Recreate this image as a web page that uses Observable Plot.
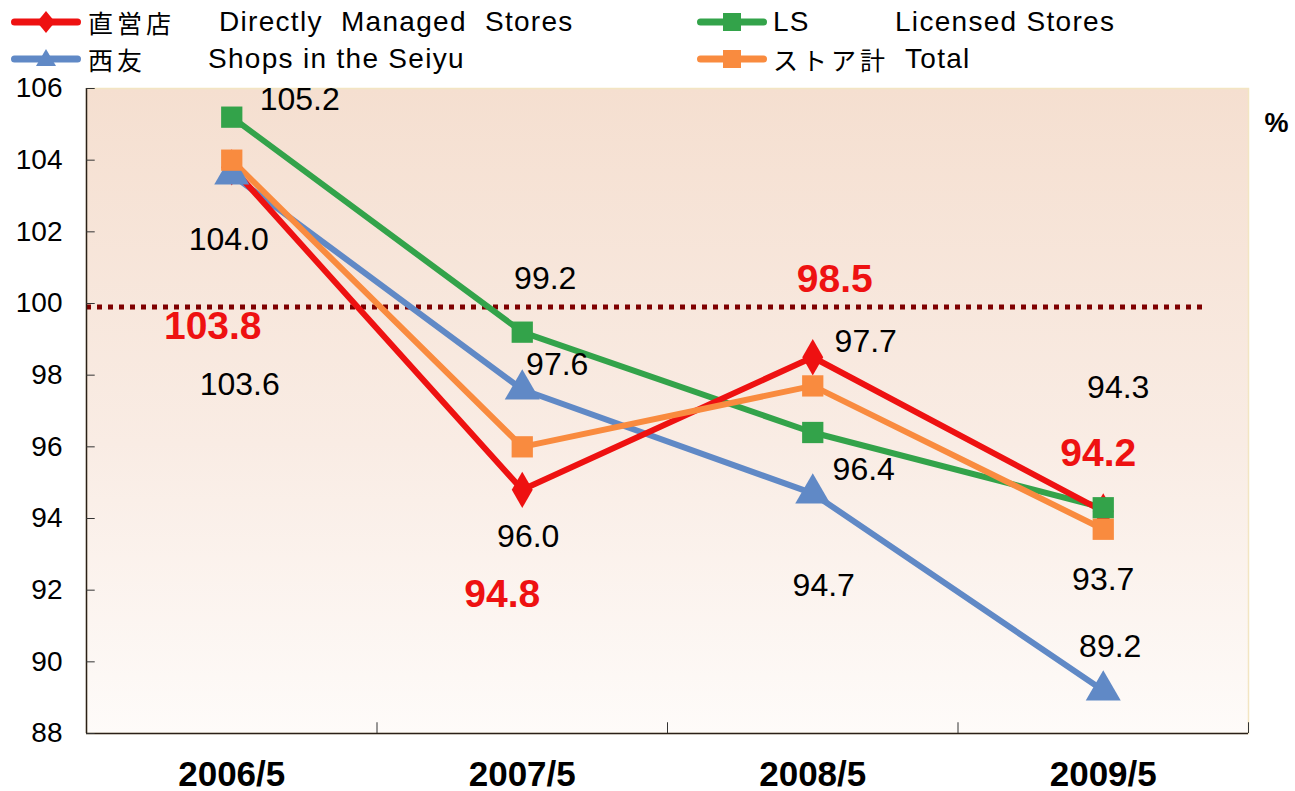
<!DOCTYPE html>
<html>
<head>
<meta charset="utf-8">
<script src="https://cdn.jsdelivr.net/npm/d3@7"></script>
<script src="https://cdn.jsdelivr.net/npm/@observablehq/plot@0.6"></script>
<style>
  body { margin: 0; background: #fff; font-family: "Liberation Sans", Arial, "Noto Sans CJK JP", sans-serif; }
  #wrap { position: relative; width: 1295px; height: 791px; }
  .lg { position: absolute; font-size: 28px; letter-spacing: 1.3px; color: #000; white-space: pre; line-height: 28px; height: 28px; }
  .jp { position: absolute; font-size: 25px; letter-spacing: 4px; color: #000; white-space: pre; line-height: 28px; height: 28px; font-family: "Noto Sans CJK JP", sans-serif; }
  .sw { position: absolute; }
  #chart { position: absolute; left: 0; top: 76px; }
</style>
</head>
<body>
<div id="wrap"><div id="chart"></div></div>
<script>
// ---- data ----
const categories = ["2006/5", "2007/5", "2008/5", "2009/5"];
const directlyManaged = [103.8, 94.8, 98.5, 94.2];   // 直営店
const seiyuShops      = [103.6, 97.6, 94.7, 89.2];   // 西友
const licensedStores  = [105.2, 99.2, 96.4, 94.3];   // LS
const totalStores     = [104.0, 96.0, 97.7, 93.7];   // ストア計
const yTicks = [88, 90, 92, 94, 96, 98, 100, 102, 104, 106];
const referenceValue = 99.9;

// ---- styling / label offsets (pixels) ----
const series = [
  {key: "seiyu", jp: "西友", en: "Shops in the Seiyu", values: seiyuShops, color: "#6089c6", symbol: "triangle", r: 13,
   dx: [8, 35, 11, 7], dy: [210, -25, 92, -44], bold: false},
  {key: "ls", jp: "LS", en: "Licensed Stores", values: licensedStores, color: "#33a34a", symbol: "square", r: 12,
   dx: [68, 23, 51, 15], dy: [-17, -53, 37, -120], bold: false},
  {key: "direct", jp: "直営店", en: "Directly  Managed  Stores", values: directlyManaged, color: "#ee1111", symbol: "diamond", r: 11,
   dx: [-19, -20, 22, -5], dy: [159, 105, -78, -58], bold: true},
  {key: "total", jp: "ストア計", en: "Total", values: totalStores, color: "#f98b3f", symbol: "square", r: 12,
   dx: [-3, 6, 53, 0], dy: [80, 90, -44, 50], bold: false}
];
const dotOrder = ["direct", "seiyu", "ls", "total"];

const rows = series.map(s => s.values.map((v, i) => ({i, v, key: s.key})));

const marks = [];
// gradient defs
marks.push(() => {
  const ns = "http://www.w3.org/2000/svg";
  const defs = document.createElementNS(ns, "defs");
  defs.innerHTML = `<linearGradient id="bgGrad" x1="0" y1="0" x2="0" y2="1">
     <stop offset="0" stop-color="#f5dfd0"/>
     <stop offset="0.55" stop-color="#f9ece4"/>
     <stop offset="1" stop-color="#fefbf9"/>
   </linearGradient>`;
  return defs;
});
marks.push(Plot.frame({fill: "url(#bgGrad)", stroke: "#f3e5c2", strokeWidth: 1.5}));
// reference dotted line
marks.push(Plot.ruleY([referenceValue], {x1: -0.5, x2: 3.36, stroke: "#7f0000", strokeWidth: 5, strokeDasharray: "5,6"}));
// axes lines
marks.push(Plot.ruleX([-0.5], {stroke: "#2a2018", strokeWidth: 1.5}));
marks.push(Plot.ruleY([88], {stroke: "#2a2018", strokeWidth: 1.5}));
// y inner ticks
marks.push(Plot.ruleY(yTicks, {x1: -0.5, x2: -0.47, stroke: "#333", strokeWidth: 1}));
// x boundary ticks
marks.push(Plot.ruleX([0.5, 1.5, 2.5, 3.5], {y1: 88, y2: 88.3, stroke: "#333", strokeWidth: 1}));

series.forEach((s, k) => {
  marks.push(Plot.line(rows[k], {x: "i", y: "v", stroke: s.color, strokeWidth: 6, strokeLinejoin: "miter"}));
});
dotOrder.forEach(key => {
  const k = series.findIndex(s => s.key === key);
  const s = series[k];
  marks.push(Plot.dot(rows[k], {x: "i", y: "v", symbol: () => s.symbol, fill: s.color, r: s.r, stroke: "none"}));
});
series.forEach((s, k) => {
  rows[k].forEach((d, j) => {
    marks.push(Plot.text([d], {
      x: "i", y: "v", text: d => d.v.toFixed(1),
      dx: s.dx[j], dy: s.dy[j],
      fill: s.bold ? "#ee1111" : "#000",
      fontSize: s.bold ? 39 : 32,
      fontWeight: s.bold ? "bold" : "normal",
      fontFamily: "Liberation Sans, Arial, sans-serif"
    }));
  });
});
marks.push(Plot.axisY({ticks: yTicks, tickSize: 0, tickPadding: 24, fontSize: 28, label: null,
  fontFamily: "Liberation Sans, Arial, sans-serif"}));
marks.push(Plot.axisX({ticks: [0, 1, 2, 3], tickSize: 0, tickPadding: 28, label: null,
  tickFormat: i => categories[i], fontSize: 35, fontWeight: "bold",
  fontFamily: "Liberation Sans Narrow, Arial Narrow, Liberation Sans, sans-serif"}));
marks.push(Plot.text(["%"], {frameAnchor: "top-right", dx: 40, dy: 24, fontSize: 27, fontWeight: "bold",
  fontFamily: "Liberation Sans, Arial, sans-serif", fill: "#000"}));

const chart = Plot.plot({
  width: 1295,
  height: 715,
  marginLeft: 86,
  marginRight: 47,
  marginTop: 12,
  marginBottom: 58,
  style: {overflow: "visible", background: "transparent", color: "#000"},
  x: {type: "linear", domain: [-0.5, 3.5], axis: null},
  y: {domain: [88, 106], axis: null},
  marks
});
document.getElementById("chart").appendChild(chart);

// ---- legend (HTML above the chart) ----
const wrap = document.getElementById("wrap");
const legendPos = {
  direct: {sx: 11, y: 22, jpx: 88, enx: 219},
  seiyu:  {sx: 11, y: 59, jpx: 88, enx: 208},
  ls:     {sx: 697, y: 22, jpx: 773, enx: 895},
  total:  {sx: 697, y: 59, jpx: 773, enx: 905}
};
const symbolPaths = {
  diamond: "M35,-11 L44,0 L35,11 L26,0 Z",
  triangle: "M35,-10 L45,7 L25,7 Z",
  square: "M26,-9 L44,-9 L44,9 L26,9 Z"
};
series.forEach(s => {
  const p = legendPos[s.key];
  const sw = document.createElementNS("http://www.w3.org/2000/svg", "svg");
  sw.setAttribute("class", "sw");
  sw.setAttribute("width", 70);
  sw.setAttribute("height", 30);
  sw.setAttribute("viewBox", "0 -15 70 30");
  sw.style.left = p.sx + "px";
  sw.style.top = (p.y - 15) + "px";
  sw.innerHTML = `<line x1="3.5" x2="66.5" y1="0" y2="0" stroke="${s.color}" stroke-width="7" stroke-linecap="round"/>
                  <path d="${symbolPaths[s.symbol]}" fill="${s.color}"/>`;
  wrap.appendChild(sw);
  const jp = document.createElement("div");
  jp.className = /^[A-Za-z]+$/.test(s.jp) ? "lg" : "jp";
  jp.textContent = s.jp;
  jp.style.left = p.jpx + "px";
  jp.style.top = (p.y - 14) + "px";
  wrap.appendChild(jp);
  const en = document.createElement("div");
  en.className = "lg";
  en.textContent = s.en;
  en.style.left = p.enx + "px";
  en.style.top = (p.y - 14) + "px";
  wrap.appendChild(en);
});
</script>
</body>
</html>
